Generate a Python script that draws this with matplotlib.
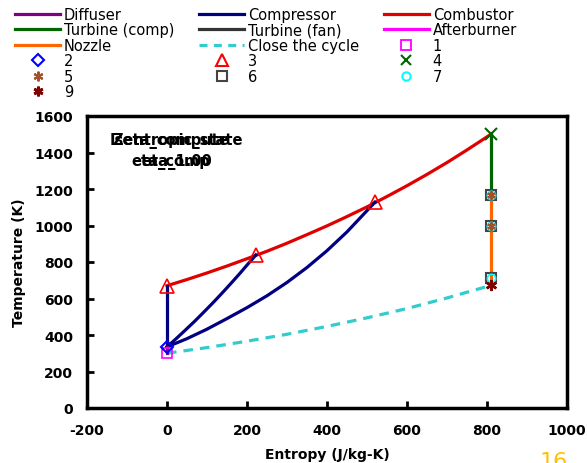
import matplotlib
matplotlib.use("Agg")
import matplotlib.pyplot as plt
from matplotlib.lines import Line2D

# ---- data ----
diffuser_s = [0, 0]
diffuser_T = [300, 335]

comp_vert_s = [0, 0]
comp_vert_T = [335, 670]
comp_a_s = [0, 20, 45, 70, 95, 116, 140, 160, 182, 200, 222]
comp_a_T = [335, 374, 425, 477, 532, 579, 635, 683, 737, 783, 838]
comp_b_s = [0, 50, 100, 150, 200, 250, 300, 350, 400, 450, 520]
comp_b_T = [335, 380, 432, 490, 550, 615, 688, 770, 862, 965, 1128]

comb_s = [0, 50, 100, 150, 200, 250, 300, 350, 400, 450, 500, 550, 600, 650, 700, 750, 810]
comb_T = [670, 704, 740, 778, 818, 859, 903, 950, 998, 1049, 1102, 1159, 1218, 1280, 1345, 1414, 1500]

turb_comp_s = [810, 810]
turb_comp_T = [1500, 1165]
nozzle_s = [810, 810]
nozzle_T = [1165, 675]

close_s = [0, 100, 200, 300, 400, 500, 600, 700, 810]
close_T = [300, 331, 366, 404, 447, 494, 545, 603, 672]

p1_s, p1_T = [0], [300]
p2_s, p2_T = [0], [335]
p3_s, p3_T = [0, 222, 520], [670, 838, 1128]
p4_s, p4_T = [810], [1500]
p5_s, p5_T = [810, 810], [1165, 1000]
p6_s, p6_T = [810, 810, 810], [1165, 1000, 710]
p7_s, p7_T = [810, 810, 810], [1165, 1000, 710]
p9_s, p9_T = [810], [675]

xticks = [-200, 0, 200, 400, 600, 800, 1000]
yticks = [0, 200, 400, 600, 800, 1000, 1200, 1400, 1600]

# ---- figure ----
plt.rcParams['font.family'] = ['DejaVu Sans']
fig = plt.figure(figsize=(5.87, 4.64), dpi=100)
W, H = 587, 464
ax = fig.add_axes([87 / W, 1 - 409 / H, 480 / W, 292 / H])

lw = 2.3
c_diff = '#800080'
c_comp = '#000080'
c_comb = '#E00000'
c_tc = '#006400'
c_tf = '#333333'
c_ab = '#FF00FF'
c_noz = '#FF6600'
c_close = '#33CCCC'

ax.plot(close_s, close_T, color=c_close, lw=lw, ls=(0, (3, 2.2)), zorder=2)
ax.plot(comb_s, comb_T, color=c_comb, lw=lw, zorder=2)
ax.plot(comp_vert_s, comp_vert_T, color=c_comp, lw=lw, zorder=3)
ax.plot(comp_a_s, comp_a_T, color=c_comp, lw=lw, zorder=3)
ax.plot(comp_b_s, comp_b_T, color=c_comp, lw=lw, zorder=3)
ax.plot(diffuser_s, diffuser_T, color=c_diff, lw=lw, zorder=3)
ax.plot(turb_comp_s, turb_comp_T, color=c_tc, lw=lw, zorder=3)
ax.plot(nozzle_s, nozzle_T, color=c_noz, lw=lw, zorder=3)

mk = dict(ls='none', zorder=5)
ax.plot(p1_s, p1_T, marker='s', ms=7, mfc='none', mec='#FF00FF', mew=1.2, **mk)
ax.plot(p2_s, p2_T, marker='D', ms=6, mfc='none', mec='#0000FF', mew=1.5, **mk)
ax.plot(p3_s, p3_T, marker='^', ms=9.5, mfc='none', mec='#FF0000', mew=1.2, **mk)
ax.plot(p4_s, p4_T, marker='x', ms=8, mfc='none', mec='#006400', mew=1.5, **mk)
ax.plot(p6_s, p6_T, marker='s', ms=7, mfc='none', mec='#444444', mew=1.5, **mk)
ax.plot(p7_s, p7_T, marker='o', ms=6, mfc='none', mec='#00FFFF', mew=1.2, **mk)
ax.plot(p5_s, p5_T, marker=(6, 2, 0), ms=6, mfc='none', mec='#A0522D', mew=1.5, **mk)
ax.plot(p9_s, p9_T, marker=(6, 2, 0), ms=8, mfc='none', mec='#800000', mew=1.8, **mk)

ax.set_xlim(-200, 1000)
ax.set_ylim(0, 1600)
ax.set_xticks(xticks)
ax.set_yticks(yticks)
ax.set_xticklabels([str(v) for v in xticks], fontweight='bold', fontsize=10)
ax.set_yticklabels([str(v) for v in yticks], fontweight='bold', fontsize=10)
ax.tick_params(axis='x', direction='in', length=5, width=2, top=False, pad=11)
ax.tick_params(axis='y', direction='in', length=5, width=2, right=False, pad=10)
for sp in ax.spines.values():
    sp.set_linewidth(2.5)
ax.set_xlabel('Entropy (J/kg-K)', fontweight='bold', fontsize=10, labelpad=7)
ax.set_ylabel('Temperature (K)', fontweight='bold', fontsize=10, labelpad=6)

# overlapping annotation texts
ax.text(0.048, 0.945, 'Isentropic_state\neta_1.00', transform=ax.transAxes, ha='left', va='top',
        multialignment='center', fontweight='bold', fontsize=10.5, linespacing=1.45, zorder=6)
ax.text(0.052, 0.945, 'Zeta_compute\neta_comp', transform=ax.transAxes, ha='left', va='top',
        multialignment='center', fontweight='bold', fontsize=10.5, linespacing=1.45, zorder=6)

# legend
def ln(c, ls='-'):
    return Line2D([], [], color=c, lw=lw, ls=ls)

def pm(m, c, ms=7, mew=1.5):
    return Line2D([], [], ls='none', marker=m, ms=ms, mfc='none', mec=c, mew=mew)

col1 = [(ln(c_diff), 'Diffuser'), (ln(c_tc), 'Turbine (comp)'), (ln(c_noz), 'Nozzle'),
        (pm('D', '#0000FF', 6), '2'), (pm((6, 2, 0), '#A0522D', 7), '5'),
        (pm((6, 2, 0), '#800000', 7, 2), '9')]
col2 = [(ln(c_comp), 'Compressor'), (ln(c_tf), 'Turbine (fan)'),
        (ln(c_close, (0, (2.5, 2))), 'Close the cycle'),
        (pm('^', '#FF0000', 8, 1.5), '3'), (pm('s', '#444444', 6.5), '6')]
col3 = [(ln(c_comb), 'Combustor'), (ln(c_ab), 'Afterburner'),
        (pm('s', '#FF00FF', 7, 1.3), '1'), (pm('x', '#006400', 7), '4'),
        (pm('o', '#00FFFF', 6), '7')]
entries = col1 + col2 + col3
fig.legend([e[0] for e in entries], [e[1] for e in entries], ncol=3,
           loc='upper left', bbox_to_anchor=(15 / W, 1 - 8 / H),
           frameon=False, fontsize=10.5, handlelength=3.1, handletextpad=0.25,
           columnspacing=1.7, labelspacing=0.03, borderpad=0, borderaxespad=0)

fig.text(540 / W, 1 - 462 / H, '16', color='#FFC000', fontsize=16, ha='left', va='center')

fig.savefig('out.png', dpi=100)
